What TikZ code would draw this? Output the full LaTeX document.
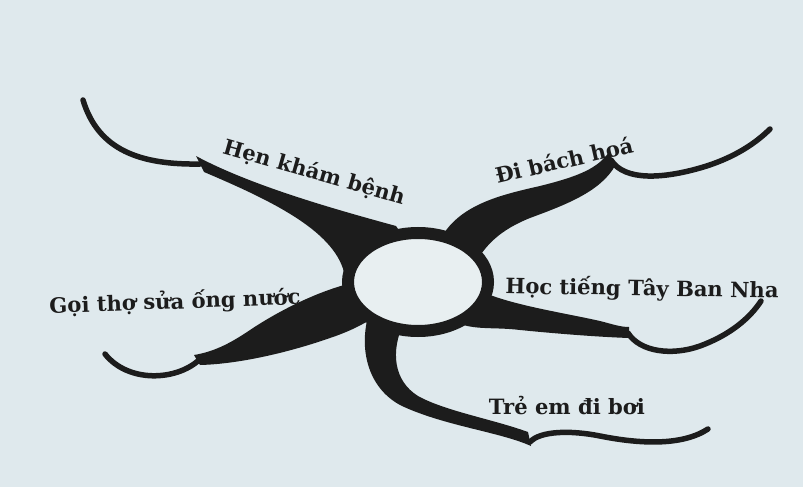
\documentclass[tikz,border=0pt]{standalone}
\usepackage{fontspec}
\setmainfont{DejaVu Serif}
\usetikzlibrary{shapes.geometric}
\definecolor{paper}{RGB}{223,233,237}
\definecolor{hole}{RGB}{232,239,241}
\definecolor{ink}{RGB}{28,28,28}

\begin{document}
\begin{tikzpicture}[x=0.2mm,y=-0.2mm,
    lbl/.style={font=\fontsize{12}{14}\selectfont\bfseries,text=ink,inner sep=0pt},
    stem/.style={draw=ink,line width=1.1mm,line cap=round},
    blob/.style={fill=ink}]
      \fill[paper] (0,0) rectangle (803,487);
      \useasboundingbox (0,0) rectangle (803,487);

      % notches where the thick arms turn thin
      \coordinate (n1) at (200,164);
      \coordinate (n2) at (611,160);
      \coordinate (n3) at (199,360);
      \coordinate (n4) at (628,333);
      \coordinate (n5) at (530,442);

      % thick arms
      \fill[blob] (196,156) .. controls (250,185) and (330,208) .. (396,226) -- (420,262) -- (344,272)
        .. controls (333,230) and (270,200) .. (204,172) -- cycle;
      \fill[blob] (440,240) .. controls (458,205) and (500,195) .. (540,186) .. controls (580,176) and (598,168) .. (609,152)
        -- (615,166) .. controls (600,192) and (565,205) .. (530,218) .. controls (500,230) and (486,245) .. (476,262) -- cycle;
      \fill[blob] (356,282) .. controls (320,290) and (280,310) .. (250,330) .. controls (228,345) and (212,352) .. (194,355)
        -- (200,365) .. controls (240,364) and (290,352) .. (330,338) .. controls (345,333) and (356,328) .. (370,320) -- cycle;
      \fill[blob] (478,290) .. controls (510,305) and (560,312) .. (600,321) .. controls (612,324) and (620,327) .. (629,327)
        -- (629,338) .. controls (600,337) and (560,334) .. (520,330) .. controls (495,327) and (478,330) .. (460,324) -- cycle;
      \fill[blob] (370,310) .. controls (358,345) and (366,388) .. (402,406) .. controls (445,426) and (500,432) .. (531,446)
        -- (528,432) .. controls (492,419) and (445,411) .. (418,396) .. controls (394,381) and (390,352) .. (404,322) -- cycle;

      % thin ends
      \draw[stem] (n1) .. controls (140,165) and (98,150) .. (83,100);
      \draw[stem] (n2) .. controls (625,182) and (665,178) .. (700,168) .. controls (735,158) and (757,142) .. (770,129);
      \draw[stem] (n3) .. controls (176,381) and (128,383) .. (105,354);
      \draw[stem] (n4) .. controls (640,352) and (672,356) .. (700,346) .. controls (730,335) and (750,318) .. (761,301);
      \draw[stem] (n5) .. controls (540,431) and (570,430) .. (600,436) .. controls (640,444) and (682,446) .. (708,429);

      \node[draw=ink,line width=2.4mm,fill=hole,ellipse,inner sep=0pt,
        minimum width=28mm,minimum height=19.6mm] (hub) at (418,282){};

      \node[lbl,rotate=-16] (hen) at (314,173){Hẹn khám bệnh};
      \node[lbl,rotate=13] (bach) at (564,160){Đi bách hoá};
      \node[lbl,rotate=2] (tho) at (175,302){Gọi thợ sửa ống nước};
      \node[lbl,rotate=-1] (hoc) at (642,289){Học tiếng Tây Ban Nha};
      \node[lbl] (boi) at (567,406){Trẻ em đi bơi};
    \end{tikzpicture}
\end{document}
